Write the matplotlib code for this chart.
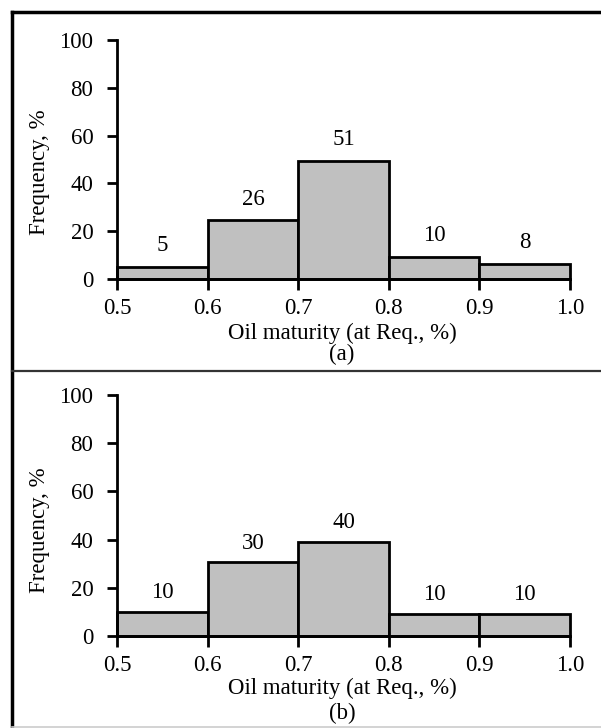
import matplotlib
matplotlib.use("Agg")
import matplotlib.pyplot as plt
from matplotlib.lines import Line2D

plt.rcParams['font.family'] = ['Liberation Serif', 'DejaVu Serif']

bin_edges = [0.5, 0.6, 0.7, 0.8, 0.9, 1.0]
heights_a = [5.2, 24.5, 49.5, 9.3, 6.3]
labels_a = ["5", "26", "51", "10", "8"]
heights_b = [10, 30.5, 39.2, 9.2, 9.2]
labels_b = ["10", "30", "40", "10", "10"]
yticks = [0, 20, 40, 60, 80, 100]
xticks = [0.5, 0.6, 0.7, 0.8, 0.9, 1.0]
xticklabels = ["0.5", "0.6", "0.7", "0.8", "0.9", "1.0"]
xlabel = "Oil maturity (at Req., %)"
ylabel = "Frequency, %"

W, H = 601, 728
FS = 16.5
fig = plt.figure(figsize=(W / 100, H / 100), dpi=100)

def px_rect(left, top, right, bottom):
    return [left / W, 1 - bottom / H, (right - left) / W, (bottom - top) / H]

panels = [
    (px_rect(117, 40, 570, 279), heights_a, labels_a, "(a)", 333, 354, 172, 21),
    (px_rect(117, 395, 570, 636), heights_b, labels_b, "(b)", 688, 713, 530, 19),
]

for rect, heights, labels, tag, xly, tagy, yly, off in panels:
    ax = fig.add_axes(rect)
    lefts = bin_edges[:-1]
    widths = [b - a for a, b in zip(bin_edges[:-1], bin_edges[1:])]
    ax.bar(lefts, heights, width=widths, align='edge', color='#c0c0c0',
           edgecolor='black', linewidth=2.0, zorder=2, clip_on=False)
    for l, w, h, lab in zip(lefts, widths, heights, labels):
        ax.annotate(lab, (l + w / 2, h), xytext=(0, off), textcoords='offset pixels',
                    ha='center', va='center', fontsize=FS)
    ax.set_xlim(0.5, 1.0)
    ax.set_ylim(0, 100)
    ax.set_xticks(xticks)
    ax.set_xticklabels(xticklabels)
    ax.set_yticks(yticks)
    for s in ['top', 'right']:
        ax.spines[s].set_visible(False)
    for s in ['left', 'bottom']:
        ax.spines[s].set_linewidth(2.0)
        ax.spines[s].set_zorder(3)
    ax.tick_params(axis='y', direction='out', length=7, width=2, labelsize=FS, pad=10)
    ax.tick_params(axis='x', direction='out', length=8, width=2, labelsize=FS, pad=6)
    ax.patch.set_alpha(0)
    fig.text(342 / W, 1 - xly / H, xlabel, ha='center', va='center', fontsize=FS)
    fig.text(342 / W, 1 - tagy / H, tag, ha='center', va='center', fontsize=FS)
    fig.text(40 / W, 1 - yly / H, ylabel, ha='center', va='center', fontsize=FS, rotation=90)

# frame lines
fig.add_artist(Line2D([12 / W, 12 / W], [0, 1 - 12 / H], color='black', linewidth=2.5,
                      transform=fig.transFigure))
fig.add_artist(Line2D([12 / W, 1], [1 - 12 / H, 1 - 12 / H], color='black', linewidth=2.5,
                      transform=fig.transFigure))
fig.add_artist(Line2D([12 / W, 1], [1 - 371 / H, 1 - 371 / H], color='#333333', linewidth=1.6,
                      transform=fig.transFigure))
fig.add_artist(Line2D([12 / W, 1], [1 - 727 / H, 1 - 727 / H], color='#cccccc', linewidth=1.2,
                      transform=fig.transFigure))

fig.savefig("out.png", dpi=100)
